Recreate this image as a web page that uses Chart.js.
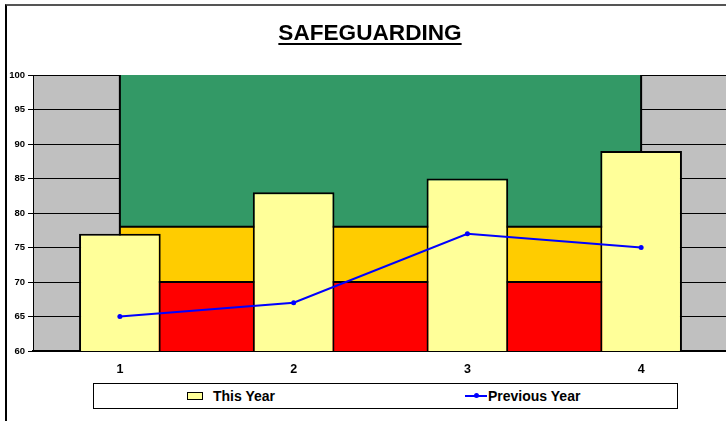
<!DOCTYPE html>
<html>
<head>
<meta charset="utf-8">
<script src="https://cdn.jsdelivr.net/npm/chart.js@4.4.1/dist/chart.umd.min.js"></script>
<style>
  html, body { margin: 0; padding: 0; background: #fff; overflow: hidden; width: 726px; height: 421px; }
  body { position: relative; font-family: "Liberation Sans", Arial, sans-serif; }
  #frame { position: absolute; left: 5px; top: 4px; width: 760px; height: 440px;
           border-top: 2px solid #555; border-left: 2px solid #000; }
  #wrap { position: absolute; left: 0; top: 0; width: 740px; height: 421px; }
  #title { position: absolute; left: 0; width: 740px; top: 20px; text-align: center;
           font-weight: bold; font-size: 22.6px; text-decoration: underline;
           text-decoration-thickness: 2px; text-underline-offset: 3px; color: #000; }
  #legend { position: absolute; left: 93px; top: 383px; width: 583px; height: 24px;
            border: 1px solid #000; background: #fff; font-weight: bold; font-size: 14px; }
  .item { position: absolute; top: 0; height: 24px; display: flex; align-items: center; }
  .swatch { width: 14px; height: 6px; background: #ffff99; border: 1px solid #000; margin-right: 10px; }
  .lineKey { position: relative; width: 22px; height: 2px; background: #0000ff; margin-right: 1px; }
  .lineKey::after { content: ''; position: absolute; left: 9px; top: -2px; width: 5px; height: 5px;
                    border-radius: 50%; background: #0000ff; }
</style>
</head>
<body>
<div id="frame"></div>
<div id="wrap"><canvas id="chart" width="740" height="421"></canvas></div>
<div id="title">SAFEGUARDING</div>
<div id="legend">
  <div class="item" style="left:93px"><span class="swatch"></span>This Year</div>
  <div class="item" style="left:371px"><span class="lineKey"></span>Previous Year</div>
</div>
<script>
// chart data
const categories = ['1', '2', '3', '4'];
const thisYear = [77, 83, 85, 89];
const previousYear = [65, 67, 77, 75];
// RAG target bands (upper edge of each band)
const redBand = [70, 70, 70, 70];
const amberBand = [78, 78, 78, 78];
const greenBand = [100, 100, 100, 100];
const yMin = 60, yMax = 100, yStep = 5;

// grey plot background
const plotBg = {
  id: 'plotBg',
  beforeDraw(chart) {
    const a = chart.chartArea, c = chart.ctx;
    c.save();
    c.fillStyle = '#c0c0c0';
    c.fillRect(a.left, a.top, a.right - a.left, a.bottom - a.top);
    c.restore();
  }
};

// black vertical edges at both ends of the band block
const bandEdges = {
  id: 'bandEdges',
  afterDatasetDraw(chart, args) {
    if (args.index !== 0) return;
    const pts = args.meta.data;
    const y = chart.scales.y, c = chart.ctx;
    c.save();
    c.strokeStyle = '#000';
    c.lineWidth = 2;
    [pts[0].x, pts[pts.length - 1].x].forEach(x => {
      c.beginPath();
      c.moveTo(x, y.getPixelForValue(yMax));
      c.lineTo(x, y.getPixelForValue(yMin));
      c.stroke();
    });
    c.restore();
  }
};

const band = (data, color, fill, border) => ({
  type: 'line', data, fill, backgroundColor: color,
  borderColor: border, borderWidth: 2, pointRadius: 0, tension: 0, order: 3
});

new Chart(document.getElementById('chart'), {
  data: {
    labels: categories,
    datasets: [
      band(redBand, '#ff0000', 'start', '#000'),
      band(amberBand, '#ffcc00', '-1', '#000'),
      band(greenBand, '#339966', '-1', '#339966'),
      {
        type: 'bar', label: 'This Year', data: thisYear,
        backgroundColor: '#ffff99', borderColor: '#000', borderWidth: 2,
        borderSkipped: false, categoryPercentage: 1, barPercentage: 0.47, order: 2
      },
      {
        type: 'line', label: 'Previous Year', data: previousYear,
        borderColor: '#0000ff', backgroundColor: '#0000ff', borderWidth: 2,
        pointRadius: 2.5, pointBorderWidth: 0, fill: false, tension: 0, order: 1
      }
    ]
  },
  options: {
    responsive: false,
    animation: false,
    layout: { padding: { top: 75, left: 0, right: 12, bottom: 40 } },
    plugins: { legend: { display: false }, title: { display: false } },
    scales: {
      x: {
        offset: true,
        grid: { display: false, drawTicks: false },
        border: { color: '#000', width: 2 },
        ticks: { color: '#000', padding: 11, font: { family: 'Liberation Sans', size: 12.5, weight: 'bold' } },
        afterFit: s => { s.height = 30; }
      },
      y: {
        min: yMin, max: yMax,
        grid: { color: '#000', lineWidth: 1, tickLength: 5, tickColor: '#000' },
        border: { color: '#000', width: 1 },
        ticks: { stepSize: yStep, color: '#000', padding: 3, font: { family: 'Liberation Sans', size: 9.5, weight: 'bold' } },
        afterFit: s => { s.width = 33; }
      }
    }
  },
  plugins: [plotBg, bandEdges]
});
</script>
</body>
</html>
